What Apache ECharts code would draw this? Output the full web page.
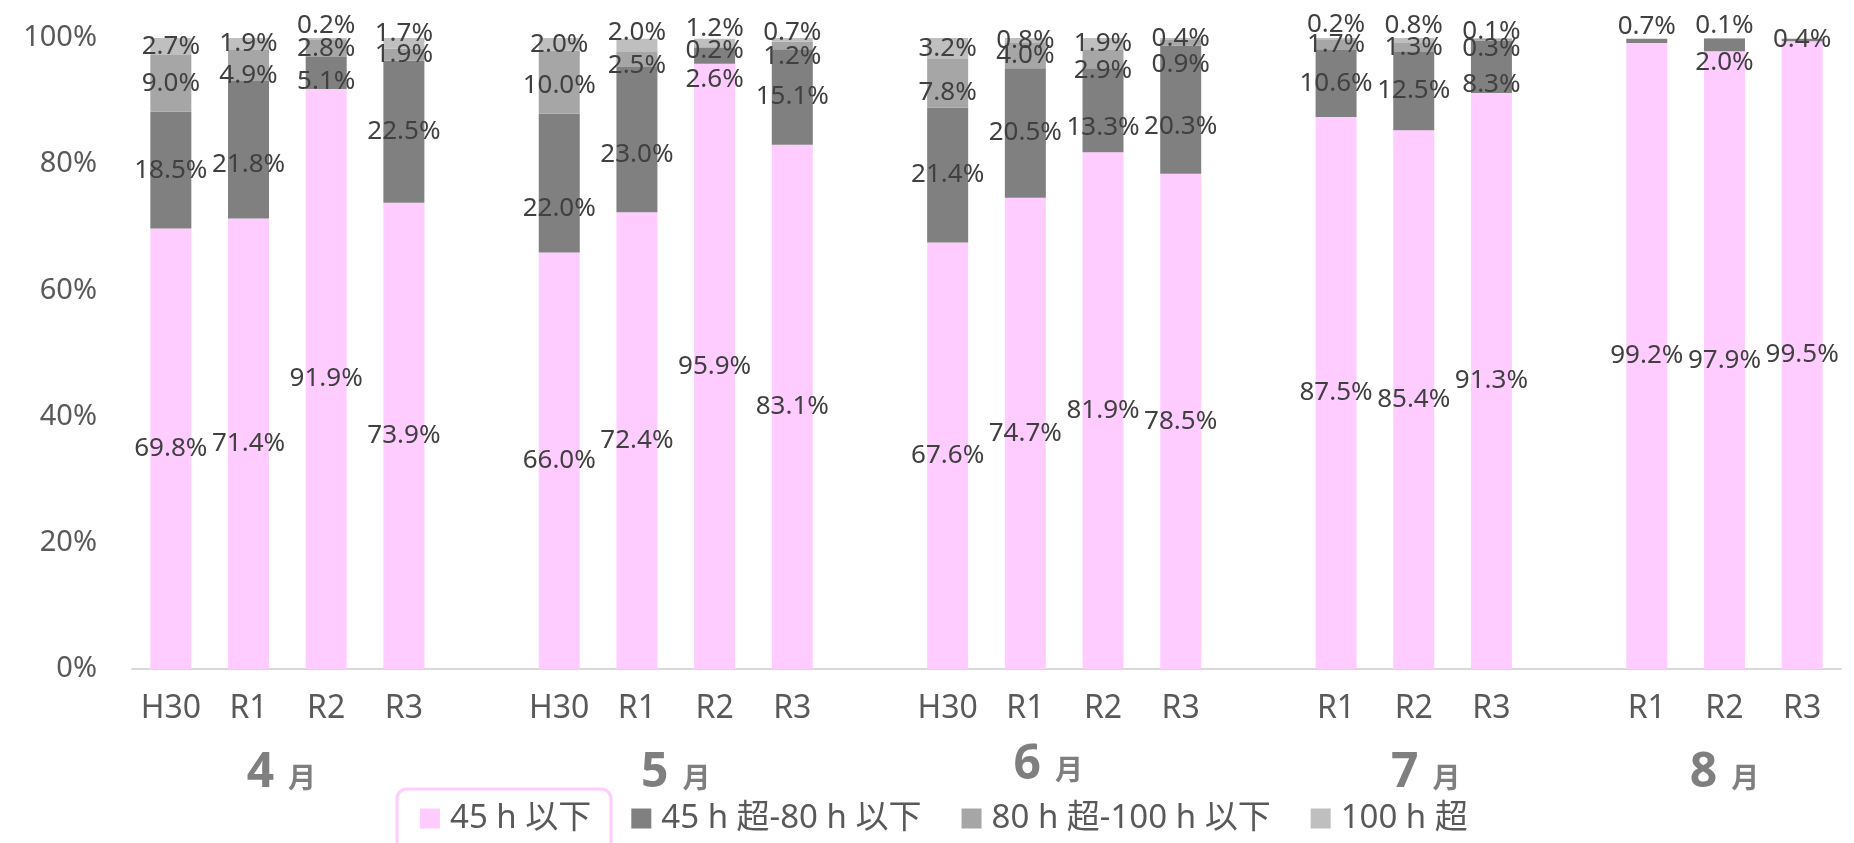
<!DOCTYPE html>
<html><head><meta charset="utf-8">
<script src="https://cdn.jsdelivr.net/npm/echarts@6/dist/echarts.min.js"></script>
<style>html,body{margin:0;padding:0;background:#fff}#c{width:1854px;height:843px}</style>
</head><body><div id="c"></div>
<script>
// ---- data ----
const months = ['4', '5', '6', '7', '8'];
const years = [
  ['H30', 'R1', 'R2', 'R3'],
  ['H30', 'R1', 'R2', 'R3'],
  ['H30', 'R1', 'R2', 'R3'],
  ['R1', 'R2', 'R3'],
  ['R1', 'R2', 'R3']
];
const seriesNames = ['45 h 以下', '45 h 超-80 h 以下', '80 h 超-100 h 以下', '100 h 超'];
const upTo45h      = [[69.8, 71.4, 91.9, 73.9], [66.0, 72.4, 95.9, 83.1], [67.6, 74.7, 81.9, 78.5], [87.5, 85.4, 91.3], [99.2, 97.9, 99.5]];
const over45To80h  = [[18.5, 21.8, 5.1, 22.5], [22.0, 23.0, 2.6, 15.1], [21.4, 20.5, 13.3, 20.3], [10.6, 12.5, 8.3], [0.7, 2.0, 0.4]];
const over80To100h = [[9.0, 4.9, 2.8, 1.9], [10.0, 2.5, 0.2, 1.2], [7.8, 4.0, 2.9, 0.9], [1.7, 1.3, 0.3], [null, 0.1, null]];
const over100h     = [[2.7, 1.9, 0.2, 1.7], [2.0, 2.0, 1.2, 0.7], [3.2, 0.8, 1.9, 0.4], [0.2, 0.8, 0.1], [null, null, null]];
const yTicks = [0, 20, 40, 60, 80, 100];

// ---- layout (label nudges in px, not data) ----
const labelNudge = [
  [[0, 0, 0, 0], [0, 0, 0, 0], [0, 0, 0, 0], [0, 0, 0], [0, 0, 0]],
  [[0, 15, 9, 0], [25, 15, 24, 0], [0, 0, 17, 17], [0, 0, 18], [-14, 18, 0]],
  [[0, 10, 0, 0], [3, 6, 4, 11], [10, 0, 11, 22], [0, 0, 9], [0, -13, 0]],
  [[0, 0, -13, -10], [0, -12, -14, -7], [0, 0, 0, 0], [-14, -15, -7], [0, 0, 0]]
];
const monthShift = [[-6, 0], [0, 0], [-16, -8], [12, 0], [0, 0]];
const colors = ['#FFCCFF', '#808080', '#A6A6A6', '#BFBFBF'];
const FONT = "'Noto Sans', 'Noto Sans CJK JP', sans-serif";
const LFONT = "'Liberation Sans Narrow', 'Noto Sans', sans-serif";

// build categories with a gap between month groups
const cats = [];
const groupIdx = [];
months.forEach((m, g) => {
  const idx = [];
  years[g].forEach(y => { idx.push(cats.length); cats.push(m + '-' + y); });
  groupIdx.push(idx);
  if (g < months.length - 1) cats.push('gap' + g);
});

const allSeries = [upTo45h, over45To80h, over80To100h, over100h];
const series = allSeries.map((vals, s) => {
  const data = [];
  months.forEach((m, g) => {
    vals[g].forEach((v, i) => {
      data.push(v == null ? '-' : { value: v, label: { offset: [0, labelNudge[s][g][i]] } });
    });
    if (g < months.length - 1) data.push('-');
  });
  return {
    name: seriesNames[s], type: 'bar', stack: 'total', barWidth: 41,
    itemStyle: { color: colors[s] },
    label: {
      show: true, position: 'inside', color: '#404040', fontSize: 26, fontFamily: LFONT,
      formatter: p => (p.value == null || p.value === '-') ? '' : Number(p.value).toFixed(1) + '%'
    },
    data
  };
});

const chart = echarts.init(document.getElementById('c'));
chart.setOption({
  animation: false,
  grid: { left: 132, right: 13, top: 38, bottom: 174 },
  legend: {
    data: seriesNames, left: 415, top: 797, itemWidth: 20, itemHeight: 20, itemGap: 40,
    icon: 'rect',
    textStyle: { fontSize: 33, color: '#595959', fontFamily: FONT, padding: [0, 0, 0, 5] }
  },
  xAxis: {
    type: 'category', data: cats,
    axisLine: { lineStyle: { color: '#D9D9D9', width: 2 } },
    axisTick: { show: false },
    axisLabel: {
      interval: 0, margin: 24, fontSize: 32, color: '#595959', fontFamily: FONT,
      formatter: v => v.startsWith('gap') ? '' : v.split('-')[1]
    }
  },
  yAxis: {
    type: 'value', min: yTicks[0], max: yTicks[yTicks.length - 1], interval: 20,
    axisLine: { show: false }, axisTick: { show: false }, splitLine: { show: false },
    axisLabel: { margin: 35, fontSize: 29, color: '#595959', fontFamily: FONT, formatter: '{value}%' }
  },
  series
});

// month labels and legend selection box
const graphics = [{
  type: 'rect', shape: { x: 397, y: 789, width: 214, height: 62, r: 10 },
  style: { fill: 'none', stroke: '#FFCCFF', lineWidth: 3 }, silent: true
}];
months.forEach((m, g) => {
  const idx = groupIdx[g];
  const x0 = chart.convertToPixel({ xAxisIndex: 0 }, idx[0]);
  const x1 = chart.convertToPixel({ xAxisIndex: 0 }, idx[idx.length - 1]);
  graphics.push({
    type: 'text', x: (x0 + x1) / 2 + monthShift[g][0], y: 797 + monthShift[g][1],
    style: {
      text: '{n|' + m + '}{m|月}', align: 'center', verticalAlign: 'bottom',
      rich: {
        n: { fontSize: 48, fontWeight: 'bold', fill: '#7F7F7F', fontFamily: FONT },
        m: { fontSize: 28, fontWeight: 'bold', fill: '#7F7F7F', fontFamily: FONT, padding: [14, 0, 0, 14] }
      }
    }
  });
});
chart.setOption({ graphic: graphics });
</script></body></html>
